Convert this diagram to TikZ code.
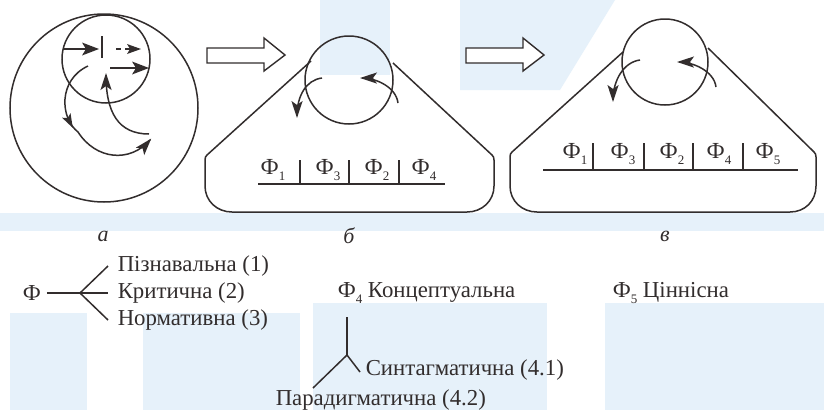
\documentclass[tikz,border=0pt]{standalone}
\usepackage{fontspec}
\setmainfont{Liberation Serif}
\usetikzlibrary{decorations.markings}
\definecolor{ink}{RGB}{50,45,45}
\definecolor{wm}{RGB}{230,241,250}
% Cyrillic F with a lowered index
\newcommand\fsub[1]{Ф\raisebox{-0.3em}{\fontsize{13}{13}\selectfont #1}}
% filled arrow heads drawn along the path direction (units in pt)
\newcommand\headshape{\fill[ink] (2pt,0pt) -- (-15pt,-5.6pt) -- (-11pt,0pt) -- (-15pt,5.6pt) -- cycle;}
\newcommand\midshape{\fill[ink] (7pt,0pt) -- (-7pt,-4.8pt) -- (-4pt,0pt) -- (-7pt,4.8pt) -- cycle;}
\begin{document}
\begin{tikzpicture}[x=1pt,y=-1pt,line width=1.5pt,
  ring/.style={circle,draw=ink,inner sep=0pt,outer sep=0pt},
  txt/.style={inner sep=0pt,text=ink,font=\fontsize{22.8}{26}\selectfont},
  cellt/.style={inner sep=0pt,text=ink,font=\fontsize{23}{26}\selectfont},
  capt/.style={inner sep=0pt,text=ink,font=\fontsize{22}{25}\selectfont\itshape},
  arrowtip/.style={postaction={decorate},decoration={markings,
     mark=at position 0.999 with {\headshape}}},
  twotips/.style={postaction={decorate},decoration={markings,
     mark=at position 0.40 with {\midshape},
     mark=at position 0.999 with {\headshape}}},
  wedge/.style={fill=ink,draw=none},
  hollow/.style={draw=ink,line width=1.4pt,fill=white}]
\useasboundingbox (0,0) rectangle (824,410);
\fill[white] (0,0) rectangle (824,410);

% faint background print
\fill[wm] (0,213) rectangle (824,231);
\fill[wm] (10,313) rectangle (87,410);
\fill[wm] (143,313) rectangle (300,410);
\fill[wm] (313,303) rectangle (547,410);
\fill[wm] (605,303) rectangle (824,410);
\fill[wm] (320,0) rectangle (390,75);
\fill[wm] (460,0) -- (615,0) -- (560,90) -- (460,90) -- cycle;

\begin{scope}[draw=ink]
% ---------- a: two circles with the moving arrows ----------
\node[ring,minimum size=188pt] (bigA) at (104,108) {};
\node[ring,minimum size=88pt] (smallA) at (106,59) {};
\coordinate (a1s) at (63,49);  \coordinate (a1e) at (90,49);
\coordinate (tk1) at (102,36); \coordinate (tk2) at (102,58);
\coordinate (a2s) at (116,49); \coordinate (a2e) at (133,49);
\coordinate (a3s) at (110,68); \coordinate (a3e) at (140,68);
\draw (a1s) -- (a1e);
\fill[wedge] (99,49) -- (82,42.5) -- (86,49) -- (82,55.5) -- cycle;
\draw (tk1) -- (tk2);
\draw[dash pattern=on 5pt off 4pt] (a2s) -- (a2e);
\fill[wedge] (141,49) -- (127,44) -- (130,49) -- (127,54) -- cycle;
\draw (a3s) -- (a3e);
\fill[wedge] (149,68) -- (132,61.5) -- (136,68) -- (132,74.5) -- cycle;
\coordinate (c1s) at (88,66);  \coordinate (c1e) at (150,140);
\draw[twotips] (c1s) .. controls (58,80) and (60,118) .. (78,132)
   .. controls (96,160) and (130,163) .. (c1e);
\coordinate (c2s) at (149,134); \coordinate (c2e) at (106,75);
\draw[arrowtip] (c2s) .. controls (118,134) and (106,112) .. (c2e);

% ---------- hollow arrows between the stages ----------
\draw[hollow] (207,48) -- (264,48) -- (264,38) -- (285,55) -- (264,71)
   -- (264,63) -- (207,63) -- cycle;
\draw[hollow] (466,48) -- (523,48) -- (523,38) -- (544,55) -- (523,71)
   -- (523,63) -- (466,63) -- cycle;

% ---------- б: pulley on a rounded frame ----------
\node[ring,minimum size=88pt] (pulB) at (349,80) {};
\draw (311,61) -- (207,155) .. controls (205.6,156.4) and (205,157.5) .. (205,160)
  -- (205,186) .. controls (205,201) and (217,212) .. (232,212)
  -- (467,212) .. controls (482,212) and (494,201) .. (494,186)
  -- (494,160) .. controls (494,157.5) and (493.4,156.4) .. (492,155) -- (393,63);
\draw[arrowtip] ([shift={(-27,-2)}]pulB.center) .. controls +(-16,2) and +(0,-20) .. ([shift={(-52,36)}]pulB.center);
\draw[arrowtip] ([shift={(49,23)}]pulB.center) .. controls +(-2,-16) and +(14,0) .. ([shift={(13,-2)}]pulB.center);
% strip of functions
\draw[line width=1.8pt] (258,184) -- (445,184);
\foreach \x in {300,349,399} \draw (\x,160) -- (\x,184);
\node[cellt] (b1) at (273,170) {\fsub{1}};
\node[cellt] (b3) at (328,170) {\fsub{3}};
\node[cellt] (b2) at (377,170) {\fsub{2}};
\node[cellt] (b4) at (424,170) {\fsub{4}};

% ---------- в: pulley on a wider frame ----------
\node[ring,minimum size=86pt] (pulC) at (665,62) {};
\draw (623,52) -- (512,152) .. controls (510.6,153.4) and (510,154.5) .. (510,157)
  -- (510,186) .. controls (510,201) and (522,212) .. (537,212)
  -- (790,212) .. controls (805,212) and (816,201) .. (816,186)
  -- (816,157) .. controls (816,154.5) and (815.4,153.4) .. (814,152) -- (708,48);
\draw[arrowtip] ([shift={(-25,-2)}]pulC.center) .. controls +(-16,2) and +(0,-20) .. ([shift={(-52,38)}]pulC.center);
\draw[arrowtip] ([shift={(51,25)}]pulC.center) .. controls +(-2,-16) and +(14,0) .. ([shift={(14,0)}]pulC.center);
\draw[line width=1.8pt] (543,170) -- (798,170);
\foreach \x in {593,644,693,743} \draw (\x,143) -- (\x,170);
\node[cellt] (c1) at (575,154) {\fsub{1}};
\node[cellt] (c3) at (623,154) {\fsub{3}};
\node[cellt] (c2) at (672,154) {\fsub{2}};
\node[cellt] (c4) at (719,154) {\fsub{4}};
\node[cellt] (c5) at (768,154) {\fsub{5}};

% stage captions
\node[capt] (capA) at (103,236) {а};
\node[capt] (capB) at (349,236) {б};
\node[capt] (capC) at (665,236) {в};

% ---------- kinds of functions ----------
\node[txt] (phi) at (32,293) {Ф};
\coordinate (fork) at (80,293);
\node[txt,anchor=west] (k1) at (117,266) {Пізнавальна (1)};
\node[txt,anchor=west] (k2) at (117,293) {Критична (2)};
\node[txt,anchor=west] (k3) at (117,320) {Нормативна (3)};
\draw ([xshift=5pt]phi.east) -- (fork);
\draw (fork) -- ([xshift=-9pt]k1.west);
\draw (fork) -- ([xshift=-9pt]k2.west);
\draw (fork) -- ([xshift=-9pt]k3.west);

\node[txt,anchor=west] (f4) at (337,293) {\fsub{4} Концептуальна};
\node[txt,anchor=west] (f5) at (612,293) {\fsub{5} Ціннісна};
\coordinate (t0) at (347,317);
\coordinate (tj) at (347,355);
\node[txt,anchor=west] (s41) at (365,370) {Синтагматична (4.1)};
\node[txt,anchor=west] (s42) at (275,400) {Парадигматична (4.2)};
\draw (t0) -- (tj);
\draw (tj) -- ([shift={(-5pt,-2pt)}]s41.west);
\draw (tj) -- (313,388);
\end{scope}
\end{tikzpicture}
\end{document}
